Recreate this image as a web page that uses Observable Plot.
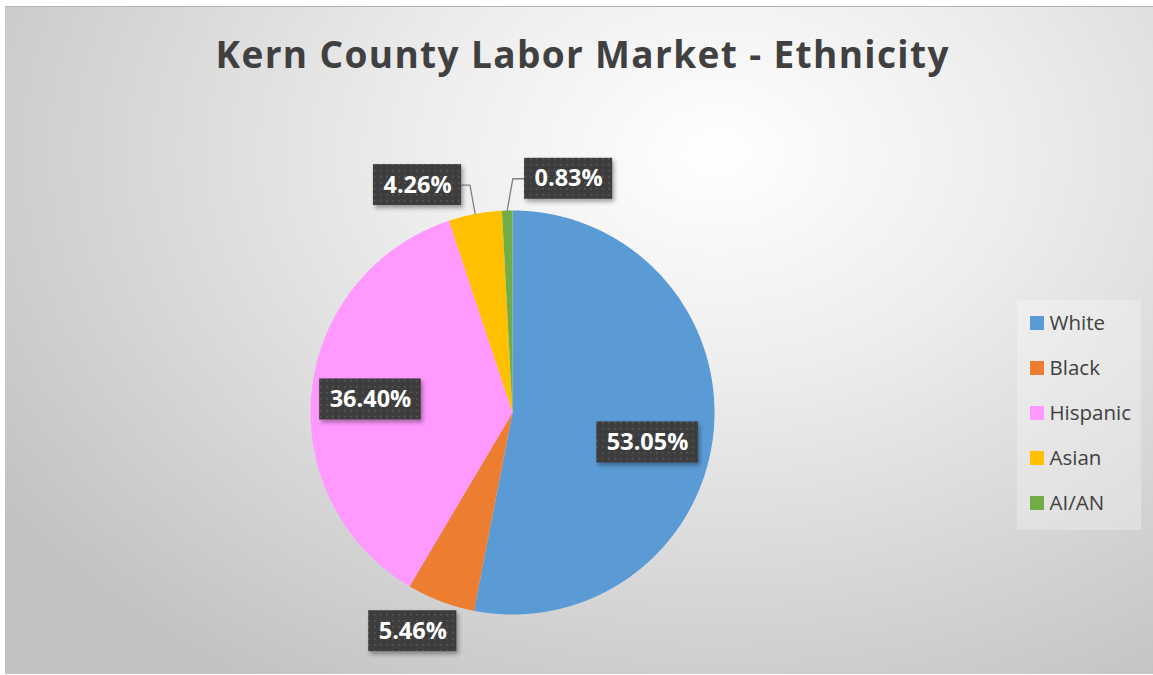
<!DOCTYPE html>
<html>
<head>
<meta charset="utf-8">
<script src="https://cdn.jsdelivr.net/npm/d3@7"></script>
<script src="https://cdn.jsdelivr.net/npm/@observablehq/plot@0.6"></script>
<style>
  html, body { margin: 0; padding: 0; background: #ffffff; }
  #frame {
    position: absolute; left: 5px; top: 6px; width: 1148px; height: 668px;
    border-top: 1px solid #b4b4b4; box-sizing: border-box;
    background: radial-gradient(ellipse 75% 95% at 62% 22%, #ffffff 0%, #ededed 35%, #d6d6d6 70%, #c2c2c2 100%);
  }
  #chart { position: absolute; left: 0; top: 0; }
</style>
</head>
<body>
<div id="frame"></div>
<div id="chart"></div>
<script>
// ---- data ----
const categories = ["White", "Black", "Hispanic", "Asian", "AI/AN"];
const shares = [53.05, 5.46, 36.40, 4.26, 0.83];
const labels = ["53.05%", "5.46%", "36.40%", "4.26%", "0.83%"];
const colors = ["#5b9bd5", "#ed7d31", "#ff99ff", "#ffc000", "#70ad47"];
const titleText = "Kern County Labor Market - Ethnicity";

// ---- layout (label placement as radius factor and angle shift, degrees) ----
const labelRadius = [0.685, 1.19, 0.706, 1.22, 1.19];
const labelShift = [7, 3.7, -0.9, -12, 15];
const showLeader = [false, false, false, true, true];

const W = 1153, H = 675;
const cx = 512, cy = 412, R = 202;
const font = "'Open Sans', 'Noto Sans', sans-serif";
const labelFontSize = 23.5;
const boxFill = "#3f3f3f";

const pie = d3.pie().sort(null).value(d => d.share)(categories.map((c, i) => ({cat: c, share: shares[i], i})));
const pt = (a, r) => ({x: cx + r * Math.sin(a), y: cy - r * Math.cos(a)});

// slice polygons
const slicePts = [];
for (const s of pie) {
  const c = s.data.cat;
  slicePts.push({cat: c, ...pt(0, 0)});
  const n = Math.max(2, Math.ceil((s.endAngle - s.startAngle) / (Math.PI / 720)));
  for (let k = 0; k <= n; k++) {
    const a = s.startAngle + (s.endAngle - s.startAngle) * k / n;
    slicePts.push({cat: c, ...pt(a, R)});
  }
}

// label measurements
const ctx = document.createElement("canvas").getContext("2d");
ctx.font = `bold ${labelFontSize}px 'Open Sans'`;
const boxes = pie.map(s => {
  const i = s.data.i;
  const mid = (s.startAngle + s.endAngle) / 2;
  const p = pt(mid + labelShift[i] * Math.PI / 180, R * labelRadius[i]);
  const w = ctx.measureText(labels[i]).width + 20;
  const h = 41;
  return {i, cat: s.data.cat, label: labels[i], x: p.x, y: p.y, x1: p.x - w / 2, x2: p.x + w / 2, y1: p.y - h / 2, y2: p.y + h / 2, mid};
});

// leader lines
const leaderPts = [];
for (const b of boxes) {
  if (!showLeader[b.i]) continue;
  const a = pt(b.mid, R);
  const left = b.x < a.x;
  const elbowX = a.x + (b.x - a.x) * 0.09;
  leaderPts.push({cat: b.cat, x: a.x, y: a.y});
  leaderPts.push({cat: b.cat, x: elbowX, y: b.y});
  leaderPts.push({cat: b.cat, x: left ? b.x2 : b.x1, y: b.y});
}

// legend
const legendRows = categories.map((c, i) => ({cat: c, y: 323 + i * 45}));

const chart = Plot.plot({
  width: W, height: H, margin: 0,
  style: {background: "transparent", fontFamily: font},
  x: {domain: [0, W], range: [0, W], axis: null},
  y: {domain: [0, H], range: [0, H], axis: null},
  color: {domain: categories, range: colors},
  marks: [
    Plot.text([titleText], {x: () => 581.5, y: () => 55.5, text: d => d, fontSize: 37, fontWeight: "bold", fill: "#404040", fontFamily: font}),
    Plot.line(slicePts, {x: "x", y: "y", z: "cat", fill: "cat", stroke: "none"}),
    Plot.line(leaderPts, {x: "x", y: "y", z: "cat", stroke: "#7f7f7f", strokeWidth: 1.3}),
    Plot.rect(boxes, {x1: "x1", x2: "x2", y1: "y1", y2: "y2", fill: boxFill}),
    Plot.text(boxes, {x: "x", y: "y", text: "label", fill: "white", fontWeight: "bold", fontSize: labelFontSize, fontFamily: font}),
    Plot.rect([0], {x1: () => 1017, x2: () => 1141, y1: () => 300, y2: () => 530, fill: "#ffffff", fillOpacity: 0.28}),
    Plot.rect(legendRows, {x1: () => 1030, x2: () => 1044, y1: d => d.y - 7, y2: d => d.y + 7, fill: "cat"}),
    Plot.text(legendRows, {x: () => 1049, y: "y", text: "cat", textAnchor: "start", fontSize: 20.5, fill: "#404040", fontFamily: font})
  ]
});

// dotted texture + drop shadow for the data-label boxes
const svg = d3.select(chart);
const defs = svg.insert("defs", ":first-child");
const pat = defs.append("pattern").attr("id", "dots").attr("patternUnits", "userSpaceOnUse").attr("width", 6).attr("height", 6);
pat.append("rect").attr("width", 6).attr("height", 6).attr("fill", "#3d3d3d");
pat.append("rect").attr("x", 2).attr("y", 2).attr("width", 1.5).attr("height", 1.5).attr("fill", "#5a5a5a");
const f = defs.append("filter").attr("id", "shadow").attr("x", "-20%").attr("y", "-30%").attr("width", "150%").attr("height", "170%");
f.append("feDropShadow").attr("dx", 2).attr("dy", 3).attr("stdDeviation", 2).attr("flood-color", "#000").attr("flood-opacity", 0.35);
svg.selectAll("g").filter(function () { return this.getAttribute("fill") === boxFill; })
  .selectAll("rect").attr("fill", "url(#dots)").attr("filter", "url(#shadow)");
// stretch the title to the reference's span
svg.selectAll("text").filter(function () { return this.textContent === titleText; })
  .attr("textLength", 733).attr("lengthAdjust", "spacing");

document.getElementById("chart").appendChild(chart);
</script>
</body>
</html>
